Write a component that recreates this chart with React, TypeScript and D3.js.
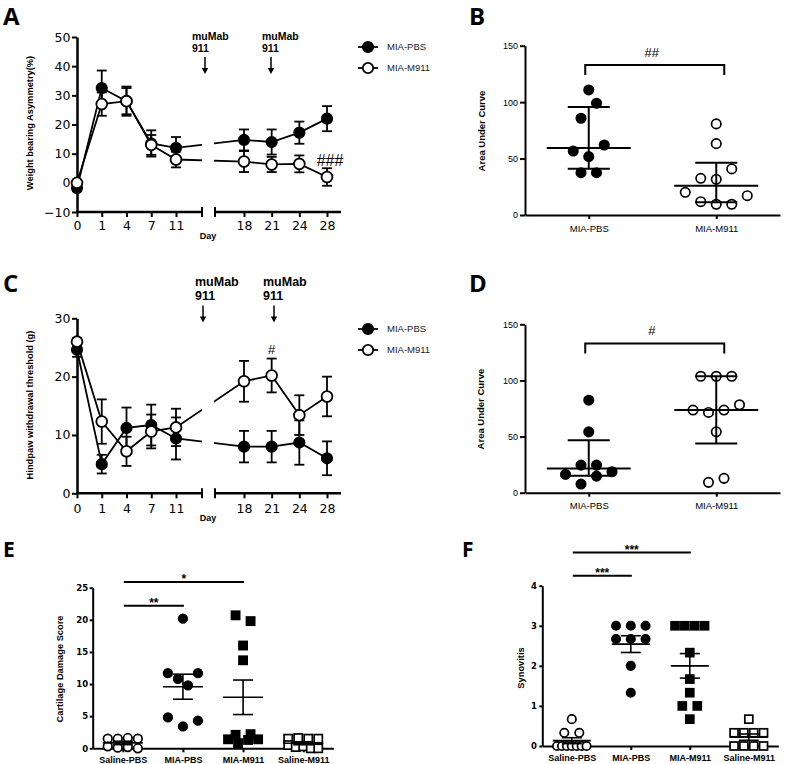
import React, { useEffect, useRef } from 'react';
import * as d3 from 'd3';

// time course days (broken axis: early / late segment)
const daysEarly = [0, 1, 4, 7, 11];
const daysLate = [18, 21, 24, 28];
const days = [...daysEarly, ...daysLate];

// A: weight bearing asymmetry (%), mean and SEM
const wbPbs = [-1.8, 32.5, 28, 13.5, 12, 14.7, 14, 17.2, 22];
const wbPbsSem = [1, 6, 5, 4.5, 3.7, 3.6, 4.3, 3.8, 4.3];
const wbM911 = [0, 27, 28, 13, 8, 7.3, 6.3, 6.5, 2];
const wbM911Sem = [0.6, 4, 4.5, 3.4, 2.7, 3.6, 2.6, 2.9, 3];

// C: hindpaw withdrawal threshold (g), mean and SEM
const pwPbs = [24.6, 5, 11.2, 11.7, 9.4, 8, 8, 8.7, 6];
const pwPbsSem = [1.2, 1.6, 3.5, 3.5, 3.6, 2.7, 2.7, 3.8, 2.9];
const pwM911 = [26, 12.3, 7.2, 10.6, 11.3, 19.2, 20.2, 13.4, 16.6];
const pwM911Sem = [0.6, 3.8, 2.5, 2.9, 3.2, 3.5, 2.9, 3.4, 3.4];

// B / D: area under curve per animal
const aucGroups = ['MIA-PBS', 'MIA-M911'];
const aucWbPbs = [110.8, 85.7, 99, 56.7, 51.7, 62, 37.5, 37.5];
const aucWbM911 = [80.7, 63.2, 32.5, 31.6, 40.8, 20.1, 11.8, 9.5, 9.5, 17.1];
const aucPwPbs = [82.4, 54.2, 24.6, 24.6, 16.3, 7.7, 14.8, 18.7];
const aucPwM911 = [103.7, 103.7, 103.7, 73.6, 71.5, 73.6, 78.3, 54.2, 9.2, 12.8];

// E / F: histology scores per animal
const histoGroups = ['Saline-PBS', 'MIA-PBS', 'MIA-M911', 'Saline-M911'];
const cartSalinePbs = [1.5, 1.5, 1.6, 1.5, 0.3, 0.1, 0.2, 0];
const cartMiaPbs = [20.2, 11.7, 10.8, 9.8, 11.7, 4.8, 3.4, 4.3];
const cartMiaM911 = [20.7, 19.8, 16, 13.7, 2.1, 2.2, 1.4, 0.8, 1.3, 1.4];
const cartSalineM911 = [1.5, 1.6, 1.5, 1.5, 0.5, 0.2, 0.3, 0, 0];
const synSalinePbs = [0.67, 0.33, 0.33, 0, 0, 0, 0, 0, 0, 0];
const synMiaPbs = [3, 3, 3, 2.67, 2.67, 2.67, 2, 1.33];
const synMiaM911 = [3, 3, 3, 3, 2.33, 1.67, 1.33, 1, 1, 0.67];
const synSalineM911 = [0.67, 0.33, 0.33, 0.33, 0.33, 0, 0, 0, 0];

const W = 785;
const H = 764;
const ARIAL = 'Liberation Sans, Arial, sans-serif';
const DEJAVU = 'DejaVu Sans, sans-serif';
const LETTER = 'Open Sans, sans-serif';

const SEG1 = [77, 202];
const SEG2 = [215, 341];
const xEarly = d3.scalePoint<string>().domain(daysEarly.map(String)).range([77, 176]);
const xLate = d3.scalePoint<string>().domain(daysLate.map(String)).range([244, 327]);
const xDay = (d: number) => (d <= 11 ? xEarly(String(d)) : xLate(String(d))) as number;
const intFmt = d3.format('d');

function styleAxis(sel: any, width: number, family: string, size: number, weight: string) {
  sel.select('.domain').attr('stroke', '#000').attr('stroke-width', width);
  sel.selectAll('.tick line').attr('stroke', '#000').attr('stroke-width', Math.min(width, 2));
  sel.selectAll('.tick text')
    .attr('font-family', family)
    .attr('font-size', size)
    .attr('font-weight', weight)
    .attr('fill', '#000');
}

// quartiles the way Prism does it: position p*(n+1)
function prismQuantile(sorted: number[], p: number) {
  const n = sorted.length;
  const pos = p * (n + 1);
  if (pos <= 1) return sorted[0];
  if (pos >= n) return sorted[n - 1];
  const lo = Math.floor(pos);
  return sorted[lo - 1] + (pos - lo) * (sorted[lo] - sorted[lo - 1]);
}

// scatter dodge: points in the same value bin are spread symmetrically
function dodge(values: number[], bin: number[], spacing: number, maxHalf: number) {
  const items = values.map((v, i) => ({ v, i }));
  const groups = d3.group(items, d => Math.floor((d.v - bin[0]) / bin[1]));
  const off = values.map(() => 0);
  groups.forEach(members => {
    const k = members.length;
    const s = k > 1 ? Math.min(spacing, (2 * maxHalf) / (k - 1)) : 0;
    members.forEach((m, j) => { off[m.i] = (j - (k - 1) / 2) * s; });
  });
  return off;
}

function panelLetter(svg: any, text: string, x: number, y: number, size: number) {
  svg.append('text').attr('x', x).attr('y', y)
    .attr('font-family', LETTER).attr('font-weight', 700).attr('font-size', size)
    .text(text);
}

function yTitle(svg: any, text: string, x: number, y: number, size: number) {
  svg.append('text')
    .attr('transform', `translate(${x},${y}) rotate(-90)`)
    .attr('text-anchor', 'middle')
    .attr('dy', '0.35em')
    .attr('font-family', ARIAL).attr('font-weight', 700).attr('font-size', size)
    .text(text);
}

function drawTimeCourse(svg: any, o: any) {
  const g = svg.append('g');
  const y = o.y;
  const base = y(o.ticks[0]);

  const ya = g.append('g').attr('transform', `translate(${SEG1[0]},0)`)
    .call(d3.axisLeft(y).tickValues(o.ticks).tickFormat(intFmt).tickSize(5).tickSizeOuter(0).tickPadding(1.5));
  styleAxis(ya, 2.5, DEJAVU, 12.5, 'normal');

  [SEG1, SEG2].forEach(s => {
    g.append('line').attr('x1', s[0] - 1).attr('x2', s[1]).attr('y1', base).attr('y2', base)
      .attr('stroke', '#000').attr('stroke-width', 2.5);
  });
  [SEG1[1], SEG2[0]].forEach(xx => {
    g.append('line').attr('x1', xx).attr('x2', xx).attr('y1', base - 5).attr('y2', base + 5)
      .attr('stroke', '#000').attr('stroke-width', 2);
  });
  [xEarly, xLate].forEach(sc => {
    const xa = g.append('g').attr('transform', `translate(0,${base})`)
      .call(d3.axisBottom(sc).tickSize(5).tickSizeOuter(0).tickPadding(o.xPad));
    xa.select('.domain').remove();
    styleAxis(xa, 2, DEJAVU, 12.5, 'normal');
  });
  g.append('text').attr('x', 208).attr('y', base + o.dayDy).attr('text-anchor', 'middle')
    .attr('font-family', ARIAL).attr('font-weight', 700).attr('font-size', 9).text('Day');

  yTitle(svg, o.title, 30, o.titleY, 9.3);

  const series = [
    { v: o.pbs, e: o.pbsSem, filled: true },
    { v: o.m911, e: o.m911Sem, filled: false },
  ];
  const line = d3.line<number>().x((_, i) => xDay(days[i])).y(v => y(v));
  series.forEach(s => {
    g.append('path').attr('d', line(s.v)).attr('fill', 'none').attr('stroke', '#000')
      .attr('stroke-width', 1.8).attr('clip-path', 'url(#axis-gap)');
  });
  series.forEach(s => {
    s.v.forEach((v: number, i: number) => {
      const xx = xDay(days[i]);
      const lo = y(v - s.e[i]);
      const hi = y(v + s.e[i]);
      g.append('line').attr('x1', xx).attr('x2', xx).attr('y1', lo).attr('y2', hi)
        .attr('stroke', '#000').attr('stroke-width', 1.8);
      [lo, hi].forEach(yy => {
        g.append('line').attr('x1', xx - 5).attr('x2', xx + 5).attr('y1', yy).attr('y2', yy)
          .attr('stroke', '#000').attr('stroke-width', 1.8);
      });
    });
  });
  series.forEach(s => {
    g.selectAll(null).data(s.v).enter().append('circle')
      .attr('cx', (_: number, i: number) => xDay(days[i]))
      .attr('cy', (v: number) => y(v))
      .attr('r', s.filled ? 5.2 : 5.4)
      .attr('fill', s.filled ? '#000' : '#fff')
      .attr('stroke', '#000').attr('stroke-width', 1.8);
  });

  // muMab 911 injections
  o.arrowX.forEach((ax: number, i: number) => {
    const tx = o.arrowTextX[i];
    g.append('text').attr('x', tx).attr('y', o.arrowTop)
      .attr('font-family', ARIAL).attr('font-weight', 700).attr('font-size', o.arrowFs).text('muMab');
    g.append('text').attr('x', tx).attr('y', o.arrowTop + o.arrowFs * 1.15)
      .attr('font-family', ARIAL).attr('font-weight', 700).attr('font-size', o.arrowFs).text('911');
    const a0 = o.arrowTop + o.arrowFs * 1.15 + 5;
    const a1 = a0 + 17;
    g.append('line').attr('x1', ax).attr('x2', ax).attr('y1', a0).attr('y2', a1 - 4)
      .attr('stroke', '#000').attr('stroke-width', 1.5);
    g.append('path').attr('d', `M${ax - 3.2},${a1 - 6}L${ax + 3.2},${a1 - 6}L${ax},${a1}Z`).attr('fill', '#000');
  });

  // legend
  ['MIA-PBS', 'MIA-M911'].forEach((name, i) => {
    const ly = o.legendTop + i * 21;
    g.append('line').attr('x1', 358).attr('x2', 378).attr('y1', ly).attr('y2', ly)
      .attr('stroke', '#000').attr('stroke-width', 1.8);
    g.append('circle').attr('cx', 368).attr('cy', ly).attr('r', 5.2)
      .attr('fill', i === 0 ? '#000' : '#fff').attr('stroke', '#000').attr('stroke-width', 1.8);
    g.append('text').attr('x', 387).attr('y', ly).attr('dy', '0.35em')
      .attr('font-family', ARIAL).attr('font-size', 9.5).attr('fill', '#222').text(name);
  });

  g.append('text').attr('x', xDay(o.hash.day) + o.hash.dx).attr('y', y(o.hash.value))
    .attr('text-anchor', 'middle').attr('font-family', ARIAL).attr('font-size', o.hash.fs)
    .text(o.hash.text);
}

function drawDots(svg: any, o: any) {
  const g = svg.append('g');
  const y = o.y;
  const x = d3.scalePoint<string>().domain(o.groups).range(o.xRange).padding(0.5);
  const step = x.step();

  const ya = g.append('g').attr('transform', `translate(${o.xRange[0]},0)`)
    .call(d3.axisLeft(y).tickValues(o.ticks).tickFormat(intFmt).tickSize(o.yTick).tickSizeOuter(0).tickPadding(o.yPad));
  styleAxis(ya, 2, o.tickFamily, o.yFs, o.tickWeight);
  const xa = g.append('g').attr('transform', `translate(0,${y(0)})`)
    .call(d3.axisBottom(x).tickSize(4).tickSizeOuter(0).tickPadding(o.xPad));
  styleAxis(xa, 2, ARIAL, o.xFs, o.tickWeight);

  yTitle(svg, o.title, o.titleX, o.titleY, o.titleFs);

  o.series.forEach((s: any, gi: number) => {
    const cx = x(o.groups[gi]) as number;
    const off = dodge(s.values, o.bin, o.spacing, step * 0.25);
    const fill = s.filled ? '#000' : '#fff';
    if (s.shape === 'circle') {
      g.selectAll(null).data(s.values).enter().append('circle')
        .attr('cx', (_: number, i: number) => cx + off[i])
        .attr('cy', (v: number) => y(v))
        .attr('r', o.r)
        .attr('fill', fill).attr('stroke', '#000').attr('stroke-width', 1.7);
    } else {
      const a = o.r * 1.9;
      g.selectAll(null).data(s.values).enter().append('rect')
        .attr('x', (_: number, i: number) => cx + off[i] - a / 2)
        .attr('y', (v: number) => y(v) - a / 2)
        .attr('width', a).attr('height', a)
        .attr('fill', fill).attr('stroke', '#000').attr('stroke-width', 1.7);
    }

    let mid: number, lo: number, hi: number;
    if (o.summary === 'median') {
      const sorted = s.values.slice().sort(d3.ascending);
      mid = prismQuantile(sorted, 0.5);
      lo = prismQuantile(sorted, 0.25);
      hi = prismQuantile(sorted, 0.75);
    } else {
      mid = d3.mean(s.values) as number;
      const sem = (d3.deviation(s.values) as number) / Math.sqrt(s.values.length);
      lo = mid - sem;
      hi = mid + sem;
    }
    const ln = (x1: number, x2: number, y1: number, y2: number) =>
      g.append('line').attr('x1', x1).attr('x2', x2).attr('y1', y1).attr('y2', y2)
        .attr('stroke', '#000').attr('stroke-width', o.sumW);
    ln(cx - o.midHalf, cx + o.midHalf, y(mid), y(mid));
    ln(cx, cx, y(lo), y(hi));
    ln(cx - o.errHalf, cx + o.errHalf, y(lo), y(lo));
    ln(cx - o.errHalf, cx + o.errHalf, y(hi), y(hi));
  });
  return x;
}

export default function App() {
  const ref = useRef<SVGSVGElement>(null);

  useEffect(() => {
    const svg = d3.select(ref.current);
    svg.selectAll('*').remove();
    svg.append('rect').attr('width', W).attr('height', H).attr('fill', '#fff');
    const clip = svg.append('defs').append('clipPath').attr('id', 'axis-gap');
    clip.append('rect').attr('x', 0).attr('y', 0).attr('width', SEG1[1]).attr('height', H);
    clip.append('rect').attr('x', SEG2[0] - 1).attr('y', 0).attr('width', W).attr('height', H);

    // A
    const yA = d3.scaleLinear().domain([-10, 50]).range([212, 37]);
    drawTimeCourse(svg, {
      y: yA, ticks: [-10, 0, 10, 20, 30, 40, 50],
      pbs: wbPbs, pbsSem: wbPbsSem, m911: wbM911, m911Sem: wbM911Sem,
      xPad: 4.5, dayDy: 27, title: 'Weight bearing Asymmetry(%)', titleY: 123,
      arrowX: [205, 271], arrowTextX: [192, 262], arrowFs: 10.5, arrowTop: 40,
      legendTop: 47,
      hash: { text: '###', day: 28, dx: 3, value: 5.8, fs: 16 },
    });

    // C
    const yC = d3.scaleLinear().domain([0, 30]).range([493.3, 318.3]);
    drawTimeCourse(svg, {
      y: yC, ticks: [0, 10, 20, 30],
      pbs: pwPbs, pbsSem: pwPbsSem, m911: pwM911, m911Sem: pwM911Sem,
      xPad: 5.5, dayDy: 28, title: 'Hindpaw withdrawal threshold (g)', titleY: 405,
      arrowX: [203, 274], arrowTextX: [195, 263], arrowFs: 12.5, arrowTop: 286,
      legendTop: 329,
      hash: { text: '#', day: 21, dx: 0, value: 23.9, fs: 13 },
    });

    const binAuc = [2.6, 20.4];
    // B
    const yB = d3.scaleLinear().domain([0, 150]).range([215, 45.7]);
    const xB = drawDots(svg, {
      groups: aucGroups, xRange: [525, 780], y: yB, ticks: [0, 50, 100, 150],
      yTick: 5, yPad: 2, xPad: 6, yFs: 9, xFs: 9.5, tickFamily: ARIAL, tickWeight: 'normal',
      title: 'Area Under Curve', titleX: 482, titleY: 131, titleFs: 9.5,
      series: [
        { values: aucWbPbs, shape: 'circle', filled: true },
        { values: aucWbM911, shape: 'circle', filled: false },
      ],
      bin: binAuc, spacing: 15.5, r: 4.7, summary: 'median', midHalf: 42, errHalf: 21, sumW: 2,
    });
    // D
    const yD = d3.scaleLinear().domain([0, 150]).range([492.7, 324.3]);
    const xD = drawDots(svg, {
      groups: aucGroups, xRange: [525, 780], y: yD, ticks: [0, 50, 100, 150],
      yTick: 5, yPad: 2, xPad: 5.5, yFs: 9, xFs: 9.5, tickFamily: ARIAL, tickWeight: 'normal',
      title: 'Area Under Curve', titleX: 481, titleY: 409, titleFs: 9.5,
      series: [
        { values: aucPwPbs, shape: 'circle', filled: true },
        { values: aucPwM911, shape: 'circle', filled: false },
      ],
      bin: binAuc, spacing: 15.5, r: 4.7, summary: 'median', midHalf: 42, errHalf: 21, sumW: 2,
    });

    // brackets for B and D
    [
      { x: xB, y: yB, text: '##' },
      { x: xD, y: yD, text: '#' },
    ].forEach(b => {
      const x1 = (b.x('MIA-PBS') as number) - 3.5;
      const x2 = (b.x('MIA-M911') as number) + 8;
      const top = b.y(133);
      const leg = b.y(124);
      svg.append('path').attr('d', `M${x1},${leg}V${top}H${x2}V${leg}`)
        .attr('fill', 'none').attr('stroke', '#000').attr('stroke-width', 2);
      svg.append('text').attr('x', (x1 + x2) / 2 - 3).attr('y', top - 8).attr('text-anchor', 'middle')
        .attr('font-family', ARIAL).attr('font-size', 13).text(b.text);
    });

    // E
    const yE = d3.scaleLinear().domain([0, 25]).range([748.3, 587.7]);
    const xE = drawDots(svg, {
      groups: histoGroups, xRange: [92.7, 333.3], y: yE, ticks: [0, 5, 10, 15, 20, 25],
      yTick: 3, yPad: 1.5, xPad: 4.5, yFs: 8.5, xFs: 9, tickFamily: DEJAVU, tickWeight: 'bold',
      title: 'Cartilage Damage Score', titleX: 60, titleY: 669, titleFs: 9.3,
      series: [
        { values: cartSalinePbs, shape: 'circle', filled: false },
        { values: cartMiaPbs, shape: 'circle', filled: true },
        { values: cartMiaM911, shape: 'square', filled: true },
        { values: cartSalineM911, shape: 'square', filled: false },
      ],
      bin: [1.46, 3.58], spacing: 15, r: 4.3, summary: 'mean', midHalf: 20, errHalf: 10, sumW: 1.6,
    });
    // F
    const yF = d3.scaleLinear().domain([0, 4]).range([746, 585.7]);
    const xF = drawDots(svg, {
      groups: histoGroups, xRange: [542.3, 778.3], y: yF, ticks: [0, 1, 2, 3, 4],
      yTick: 3, yPad: 2.5, xPad: 5, yFs: 8.5, xFs: 9, tickFamily: DEJAVU, tickWeight: 'bold',
      title: 'Synovitis', titleX: 521, titleY: 668, titleFs: 9.3,
      series: [
        { values: synSalinePbs, shape: 'circle', filled: false },
        { values: synMiaPbs, shape: 'circle', filled: true },
        { values: synMiaM911, shape: 'square', filled: true },
        { values: synSalineM911, shape: 'square', filled: false },
      ],
      bin: [-1 / 6, 1 / 3], spacing: 15, r: 4.2, summary: 'mean', midHalf: 19, errHalf: 10, sumW: 1.6,
    });

    // significance lines for E and F
    [
      { x: xE, y: yE, from: 'Saline-PBS', to: 'MIA-PBS', at: 22.2, text: '**' },
      { x: xE, y: yE, from: 'Saline-PBS', to: 'MIA-M911', at: 25.9, text: '*' },
      { x: xF, y: yF, from: 'Saline-PBS', to: 'MIA-PBS', at: 4.25, text: '***' },
      { x: xF, y: yF, from: 'Saline-PBS', to: 'MIA-M911', at: 4.83, text: '***' },
    ].forEach(s => {
      const x1 = (s.x(s.from) as number) + 1;
      const x2 = (s.x(s.to) as number) + 1;
      const yy = s.y(s.at);
      svg.append('line').attr('x1', x1).attr('x2', x2).attr('y1', yy).attr('y2', yy)
        .attr('stroke', '#000').attr('stroke-width', 2);
      svg.append('text').attr('x', (x1 + x2) / 2).attr('y', yy + 1.5).attr('text-anchor', 'middle')
        .attr('font-family', ARIAL).attr('font-weight', 700).attr('font-size', 12).text(s.text);
    });

    panelLetter(svg, 'A', 3, 25, 24);
    panelLetter(svg, 'B', 469, 25, 24);
    panelLetter(svg, 'C', 3, 292, 24);
    panelLetter(svg, 'D', 469, 292, 24);
    panelLetter(svg, 'E', 3, 557, 21);
    panelLetter(svg, 'F', 462, 557, 21);
  }, []);

  return (
    <svg ref={ref} width={W} height={H} style={{ position: 'absolute', left: 0, top: 0 }} />
  );
}
